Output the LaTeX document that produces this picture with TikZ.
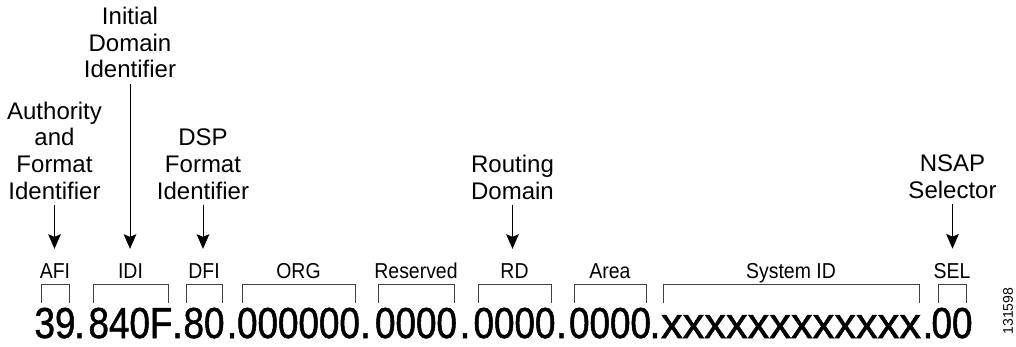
\documentclass[tikz,border=0pt]{standalone}
\usepackage{fontspec}
\setmainfont{Liberation Sans}
\newfontfamily\condfont[FakeStretch=0.9]{Liberation Sans}
\newfontfamily\numfont[FakeStretch=0.85, FakeBold=1.2]{Liberation Sans}
\newfontfamily\xfont[FakeBold=1.2]{Liberation Sans}
\usetikzlibrary{arrows.meta}

\begin{document}
\begin{tikzpicture}[x=75pt, y=-75pt,
    desc/.style={align=center, anchor=base, inner sep=0pt, outer sep=4.5pt, font=\fontsize{18}{19.9}\selectfont},
    field/.style={anchor=base, inner sep=0pt, font=\condfont\fontsize{16.2}{18}\selectfont},
    num/.style={anchor=base, inner sep=0pt, font=\numfont\fontsize{32.5}{36}\selectfont},
    pointer/.style={line width=0.75pt, -{Stealth[length=11pt, width=9.5pt, inset=2pt]}, shorten >=10.5pt},
    brace/.style={line width=0.75pt, black!75}]
    \useasboundingbox (0, 0) rectangle (10.16, 3.46);

        \node[desc] (authority) at(0.545, 1.99){Authority\\and\\Format\\Identifier};
        \node[desc] (initial) at(1.30, 0.78){Initial\\Domain\\Identifier};
        \node[desc] (dsp) at(2.03, 1.99){DSP\\Format\\Identifier};
        \node[desc] (routing) at(5.125, 1.99){Routing\\Domain};
        \node[desc] (nsap) at(9.525, 1.98){NSAP\\Selector};

        \node[field] (afi) at(0.55, 2.78){AFI};
        \node[field] (idi) at(1.305, 2.78){IDI};
        \node[field] (dfi) at(2.04, 2.78){DFI};
        \node[field] (org) at(2.985, 2.78){ORG};
        \node[field] (reserved) at(4.16, 2.78){Reserved};
        \node[field] (rd) at(5.145, 2.78){RD};
        \node[field] (area) at(6.10, 2.78){Area};
        \node[field] (sysid) at(7.91, 2.78){System ID};
        \node[field] (sel) at(9.52, 2.78){SEL};

        \draw[pointer] (authority.south) -- (authority.south |- afi.north);
        \draw[pointer] (initial.south) -- (initial.south |- idi.north);
        \draw[pointer] (dsp.south) -- (dsp.south |- dfi.north);
        \draw[pointer] (routing.south) -- (routing.south |- rd.north);
        \draw[pointer] (nsap.south) -- (nsap.south |- sel.north);

        \draw[brace] (0.41, 3.03) |- (0.69, 2.84) -- (0.69, 3.03);
        \draw[brace] (0.93, 3.03) |- (1.68, 2.84) -- (1.68, 3.03);
        \draw[brace] (1.86, 3.03) |- (2.22, 2.84) -- (2.22, 3.03);
        \draw[brace] (2.42, 3.03) |- (3.55, 2.84) -- (3.55, 3.03);
        \draw[brace] (3.78, 3.03) |- (4.54, 2.84) -- (4.54, 3.03);
        \draw[brace] (4.78, 3.03) |- (5.51, 2.84) -- (5.51, 3.03);
        \draw[brace] (5.74, 3.03) |- (6.46, 2.84) -- (6.46, 3.03);
        \draw[brace] (6.63, 3.03) |- (9.19, 2.84) -- (9.19, 3.03);
        \draw[brace] (9.38, 3.03) |- (9.66, 2.84) -- (9.66, 3.03);

        \node[num] (afinum) at(0.55, 3.38){39};
        \node[num] (dot1) at(0.795, 3.38){.};
        \node[num] (idinum) at(1.305, 3.38){840F};
        \node[num] (dot2) at(1.775, 3.38){.};
        \node[num] (dfinum) at(2.04, 3.38){80};
        \node[num] (dot3) at(2.32, 3.38){.};
        \node[num] (orgnum) at(2.985, 3.38){000000};
        \node[num] (dot4) at(3.655, 3.38){.};
        \node[num] (reservednum) at(4.16, 3.38){0000};
        \node[num] (dot5) at(4.65, 3.38){.};
        \node[num] (rdnum) at(5.145, 3.38){0000};
        \node[num] (dot6) at(5.615, 3.38){.};
        \node[num] (areanum) at(6.10, 3.38){0000};
        \node[num] (dot7) at(6.55, 3.38){.};
        \node[num, font=\xfont\fontsize{32.5}{36}\selectfont] (sysidnum) at(7.91, 3.38){xxxxxxxxxxxx};
        \node[num] (dot8) at(9.28, 3.38){.};
        \node[num] (selnum) at(9.52, 3.38){00};

        \node[rotate=90, inner sep=0pt, font=\fontsize{10.5}{12}\selectfont] (figid) at(10.08, 3.11){131598};
\end{tikzpicture}
\end{document}
